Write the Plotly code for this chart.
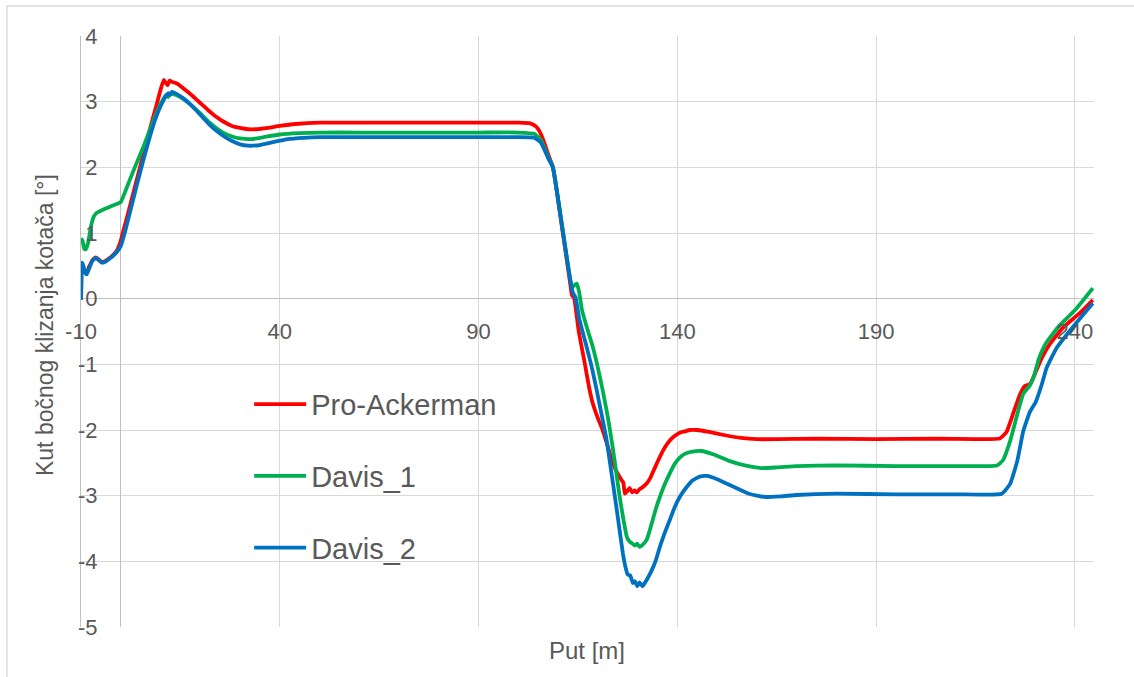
import plotly.graph_objects as go

# ---------------- data ----------------
pro_x = [-10, -9.7, -9.2, -8.6, -8.0, -7.2, -6.3, -5.6, -4.8, -4.0, -3.0, -2.0, -1.0, 0.0, 0.5, 1.5, 3, 4.5, 6, 7.5, 9, 10,
         10.8, 11.4, 11.8, 12.3, 13, 14, 15, 16, 18, 20, 22, 24, 26, 28, 30, 32, 34, 37, 40, 44, 50, 60, 70, 80, 90, 100,
         103, 104.5, 105.5, 106.5, 107.5, 108.7, 111, 113.0, 113.5, 114.0, 115.2, 116.7, 117.8, 118.7, 120, 121.2, 122.5,
         123.7, 125.5, 126.4, 126.8, 127.4, 128.0, 128.6, 129.2, 129.8, 130.5, 131.3, 132.2, 133.1, 134.3, 135.6, 136.8,
         138.1, 139.3, 140.6, 142, 143.1, 145, 148, 152, 156, 160, 165, 175, 190, 205, 215, 221.1, 222.8, 224.3, 226.1,
         227.4, 228.7, 229.9, 231.7, 233.7, 237.0, 241.2, 244.5]
pro_y = [0.55, 0.5, 0.42, 0.4, 0.48, 0.58, 0.63, 0.6, 0.56, 0.57, 0.61, 0.66, 0.73, 0.88, 1.0, 1.22, 1.57, 1.92, 2.27, 2.62,
         2.95, 3.18, 3.33, 3.28, 3.25, 3.32, 3.3, 3.28, 3.24, 3.19, 3.09, 2.98, 2.87, 2.77, 2.69, 2.63, 2.6, 2.58, 2.58,
         2.6, 2.63, 2.66, 2.68, 2.68, 2.68, 2.68, 2.68, 2.68, 2.67, 2.62, 2.53, 2.38, 2.2, 2.0, 1.08, 0.25, 0.05, 0.02,
         -0.5, -0.98, -1.35, -1.59, -1.82, -2.0, -2.25, -2.5, -2.72, -2.8, -2.97, -2.93, -2.88, -2.95, -2.92, -2.95, -2.9,
         -2.87, -2.82, -2.74, -2.58, -2.41, -2.27, -2.16, -2.09, -2.04, -2.02, -2.0, -2.0, -2.03, -2.08, -2.12, -2.14,
         -2.14, -2.13, -2.14, -2.13, -2.14, -2.13, -2.03, -1.78, -1.47, -1.33, -1.3, -1.15, -0.9, -0.69, -0.44, -0.22,
         -0.02]

d1_x = [-10, -9.6, -9.2, -8.8, -8.2, -7.5, -6.8, -6.0, -5.0, -3.5, -2.0, -1.0, 0.0, 1.5, 3, 4.5, 6, 7.5, 9, 10.5, 11.4,
        11.9, 12.4, 13, 14, 16, 18, 20, 22, 24, 26, 28, 30, 33, 36, 40, 45, 50, 60, 70, 80, 90, 100, 104, 105.5, 106.5,
        107.5, 108.7, 111, 113.5, 114.0, 114.7, 115.3, 116.0, 117.3, 118.7, 120, 121.2, 122.5, 123.7, 124.6, 125.5,
        126.4, 127.3, 128.0, 128.5, 129.3, 129.9, 130.5, 131.4, 132.3, 133.0, 133.8, 134.7, 135.6, 136.8, 138.1, 139.3,
        140.6, 142, 143.8, 146, 149, 153, 157, 161, 165, 170, 180, 195, 210, 220.4, 221.9, 223.7, 225.5, 227.0, 228.7,
        229.6, 230.9, 232.6, 235.8, 240.1, 244.5]
d1_y = [0.92, 0.88, 0.76, 0.75, 0.85, 1.1, 1.25, 1.31, 1.34, 1.38, 1.42, 1.44, 1.47, 1.69, 1.92, 2.14, 2.36, 2.6, 2.83,
        3.02, 3.1, 3.07, 3.12, 3.12, 3.1, 3.03, 2.93, 2.82, 2.7, 2.6, 2.52, 2.47, 2.44, 2.43, 2.46, 2.5, 2.52, 2.53, 2.53,
        2.53, 2.53, 2.53, 2.53, 2.51, 2.43, 2.31, 2.16, 2.0, 1.12, 0.17, 0.2, 0.23, 0.1, -0.17, -0.45, -0.73, -1.05,
        -1.39, -1.8, -2.25, -2.63, -3.02, -3.35, -3.63, -3.7, -3.72, -3.76, -3.73, -3.78, -3.74, -3.67, -3.54, -3.37,
        -3.18, -3.02, -2.83, -2.66, -2.52, -2.42, -2.36, -2.33, -2.32, -2.37, -2.47, -2.54, -2.58, -2.57, -2.55, -2.54,
        -2.55, -2.55, -2.54, -2.46, -2.17, -1.76, -1.45, -1.32, -1.2, -0.92, -0.69, -0.43, -0.17, 0.16]

d2_x = [-10, -9.85, -9.7, -9.4, -9.0, -8.6, -8.0, -7.2, -6.3, -5.6, -4.8, -4.0, -3.0, -2.0, -1.0, 0.0, 1.0, 2.5, 4, 5.5,
        7, 8.5, 10, 11.5, 12.0, 12.4, 12.9, 14, 16, 18, 20, 22, 24, 26, 28, 30, 32, 35, 38, 42, 46, 50, 60, 70, 80, 90,
        100, 104, 105.5, 106.5, 107.5, 108.7, 111, 113.3, 113.8, 114.4, 115.3, 117.2, 118.5, 119.7, 121, 122.2, 123.3,
        124.3, 125.3, 126.3, 127.0, 127.5, 128.2, 128.8, 129.3, 129.9, 130.5, 131.2, 131.8, 132.6, 133.6, 134.6, 135.6,
        136.8, 138.1, 139.3, 140.6, 142.2, 143.8, 145.6, 147.5, 150, 154, 158, 162, 166, 170, 180, 195, 210, 221.6,
        223.7, 225.5, 227.0, 228.7, 230.1, 231.7, 232.9, 235.4, 239.4, 244.5]
d2_y = [-0.02, 0.3, 0.55, 0.5, 0.4, 0.37, 0.45, 0.57, 0.62, 0.59, 0.55, 0.56, 0.6, 0.65, 0.71, 0.8, 1.0, 1.36, 1.72, 2.07,
        2.4, 2.7, 2.93, 3.1, 3.13, 3.1, 3.15, 3.12, 3.04, 2.93, 2.8, 2.67, 2.56, 2.47, 2.4, 2.35, 2.33, 2.34, 2.38, 2.43,
        2.45, 2.46, 2.46, 2.46, 2.46, 2.46, 2.46, 2.45, 2.39, 2.28, 2.14, 2.0, 1.1, 0.2, 0.08, 0.02, -0.3, -0.74, -1.05,
        -1.39, -1.78, -2.15, -2.6, -3.02, -3.45, -3.88, -4.1, -4.2, -4.22, -4.33, -4.3, -4.38, -4.32, -4.38, -4.33,
        -4.25, -4.13, -3.98, -3.78, -3.57, -3.37, -3.18, -3.02, -2.88, -2.77, -2.71, -2.7, -2.75, -2.86, -2.97, -3.02,
        -3.01, -2.99, -2.97, -2.98, -2.98, -2.97, -2.82, -2.47, -2.02, -1.72, -1.58, -1.3, -1.05, -0.75, -0.44, -0.07]

series_names = ["Pro-Ackerman", "Davis_1", "Davis_2"]
series_colors = ["#FF0000", "#00B050", "#0070C0"]
x_ticks = [-10, 40, 90, 140, 190, 240]
y_ticks = [-5, -4, -3, -2, -1, 0, 1, 2, 3, 4]

# ---------------- figure ----------------
fig = go.Figure()
for i, (xs, ys) in enumerate([(pro_x, pro_y), (d1_x, d1_y), (d2_x, d2_y)]):
    fig.add_trace(go.Scatter(
        x=xs, y=ys, mode="lines", name=series_names[i], legendgroup=series_names[i],
        line=dict(color=series_colors[i], width=3.8, shape="spline", smoothing=0.4),
    ))

TXT = "#595959"
FONT = "Liberation Sans"
GRID = "#d9d9d9"

fig.update_layout(
    width=1134, height=677,
    margin=dict(l=81, r=40, t=36, b=50, pad=0),
    paper_bgcolor="white", plot_bgcolor="white",
    font=dict(family=FONT, color=TXT, size=22),
    showlegend=True,
    legend=dict(
        x=0.166, y=0.42, xanchor="left", yanchor="top",
        bgcolor="rgba(0,0,0,0)", font=dict(size=29, color=TXT, family=FONT),
        traceorder="grouped", tracegroupgap=31, itemwidth=52,
    ),
    xaxis=dict(
        range=[-10, 244.8], tickvals=x_ticks, ticktext=[str(v) for v in x_ticks],
        showgrid=True, gridcolor=GRID, gridwidth=1.3,
        zeroline=True, zerolinecolor="#bfbfbf", zerolinewidth=1.3,
        showline=False, anchor="free", position=5 / 9,
        ticks="outside", ticklen=13, tickcolor="rgba(0,0,0,0)",
        tickfont=dict(size=22, color=TXT, family=FONT),
    ),
    yaxis=dict(
        range=[-5, 4], tickvals=y_ticks, ticktext=[str(v) for v in y_ticks],
        showgrid=True, gridcolor=GRID, gridwidth=1.3,
        zeroline=True, zerolinecolor="#bfbfbf", zerolinewidth=1.3,
        showline=True, linecolor="#bfbfbf", linewidth=1.3,
        ticks="", ticklabelstandoff=-22,
        tickfont=dict(size=22, color=TXT, family=FONT),
    ),
    annotations=[
        dict(text="Put [m]", xref="paper", yref="paper", x=0.4995, y=-0.039,
             xanchor="center", yanchor="middle", showarrow=False,
             font=dict(size=24, color=TXT, family=FONT)),
        dict(text="Kut bočnog klizanja kotača [°]", xref="paper", yref="paper", x=-0.0355, y=0.511,
             xanchor="center", yanchor="middle", textangle=-90, showarrow=False,
             font=dict(size=23, color=TXT, family=FONT)),
    ],
    shapes=[
        dict(type="rect", xref="paper", yref="paper",
             x0=-74 / 1013, x1=1.1, y0=-0.2, y1=1 + 30 / 591,
             line=dict(color=GRID, width=1.3), fillcolor="rgba(0,0,0,0)", layer="below"),
    ],
)

fig.write_html("out.html", config={"displayModeBar": False},
               post_script="document.body.style.margin='0';")
